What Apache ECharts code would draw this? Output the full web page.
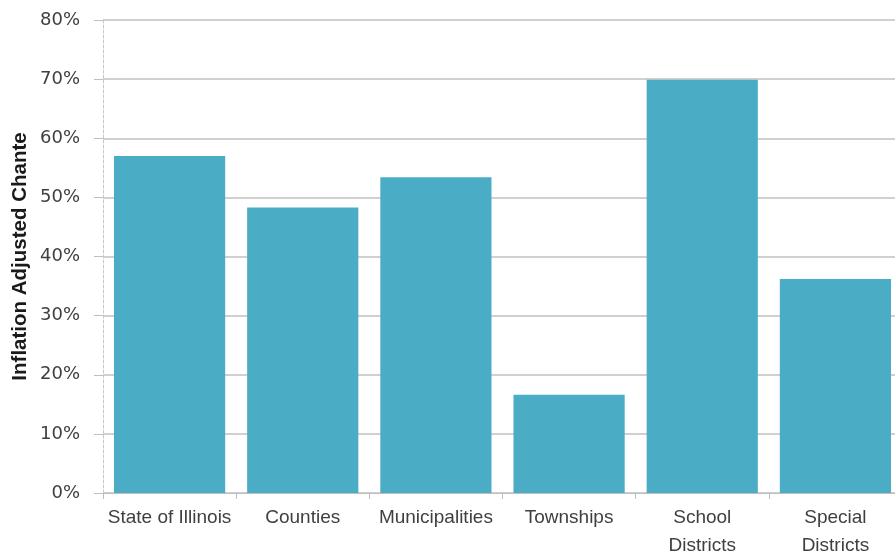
<!DOCTYPE html>
<html>
<head>
<meta charset="utf-8">
<script src="https://cdn.jsdelivr.net/npm/echarts@6/dist/echarts.min.js"></script>
<style>
html,body{margin:0;padding:0;background:#fff;}
#chart{width:895px;height:554px;}
</style>
</head>
<body>
<div id="chart"></div>
<script>
const categories = ['State of Illinois', 'Counties', 'Municipalities', 'Townships', 'School\nDistricts', 'Special\nDistricts'];
const values = [0.570, 0.483, 0.534, 0.166, 0.699, 0.362];
const yTicks = [0, 0.1, 0.2, 0.3, 0.4, 0.5, 0.6, 0.7, 0.8];
const yTitle = 'Inflation Adjusted Chante';

const chart = echarts.init(document.getElementById('chart'), null, {renderer: 'canvas'});
chart.setOption({
  animation: false,
  backgroundColor: '#ffffff',
  grid: {left: 103, top: 20, bottom: 61, width: 799, containLabel: false, outerBoundsMode: 'none'},
  xAxis: {
    type: 'category',
    data: categories,
    axisLine: {show: true, lineStyle: {color: '#bfbfbf', width: 1}},
    axisTick: {show: true, length: 6, alignWithLabel: false, lineStyle: {color: '#bfbfbf'}},
    axisLabel: {
      color: '#404040', fontFamily: 'Liberation Sans', fontSize: 19,
      margin: 11, lineHeight: 28, interval: 0
    },
    splitLine: {show: false}
  },
  yAxis: {
    type: 'value',
    min: yTicks[0],
    max: yTicks[yTicks.length - 1],
    interval: 0.1,
    name: yTitle,
    nameLocation: 'middle',
    nameGap: 72,
    nameMoveOverlap: false,
    nameTextStyle: {color: '#1a1a1a', fontFamily: 'Liberation Sans', fontWeight: 'bold', fontSize: 20.5},
    axisLine: {show: true, lineStyle: {color: '#c8c8c8', type: [3, 2], width: 1}},
    axisTick: {show: true, length: 9, lineStyle: {color: '#bfbfbf'}},
    axisLabel: {
      color: '#404040', fontFamily: 'DejaVu Sans', fontSize: 18, margin: 23,
      formatter: v => Math.round(v * 100) + '%'
    },
    splitLine: {show: true, lineStyle: {color: '#c0c0c0', width: 1.5}}
  },
  series: [{
    type: 'bar',
    data: values,
    barCategoryGap: '16.5%',
    itemStyle: {color: '#4BACC6'}
  }]
});
</script>
</body>
</html>
